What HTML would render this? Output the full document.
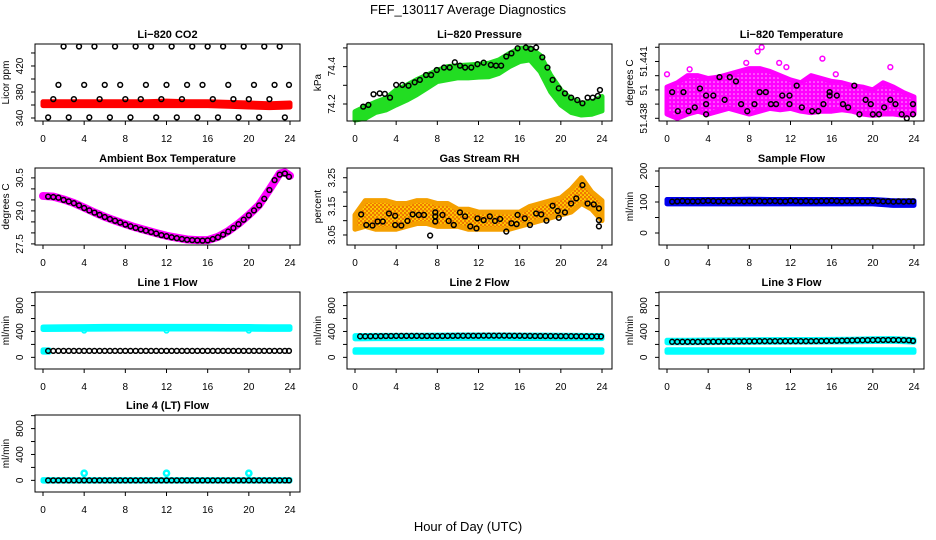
<!DOCTYPE html>
<html><head><meta charset="utf-8"><style>
html,body{margin:0;padding:0;background:#fff;}
svg{display:block;font-family:"Liberation Sans",sans-serif;}
</style></head><body>
<svg id="chart" width="936" height="540" viewBox="0 0 936 540">
<defs>
<pattern id="rhPat" width="4" height="4" patternUnits="userSpaceOnUse"><rect width="4" height="4" fill="#ffd000"/><circle cx="1" cy="1" r="1.3" fill="#f07800"/><circle cx="3" cy="3" r="1.3" fill="#f07800"/></pattern>
<pattern id="tmPat" width="4" height="4" patternUnits="userSpaceOnUse"><rect width="4" height="4" fill="#ff00ff"/><circle cx="2" cy="2" r="0.8" fill="#ffaaff"/></pattern>
</defs>
<rect x="0" y="0" width="936" height="540" fill="#fff"/>
<text x="468" y="14" text-anchor="middle" font-size="13">FEF_130117  Average Diagnostics</text>
<text x="468" y="531" text-anchor="middle" font-size="13">Hour of Day (UTC)</text>
</svg>
<script>
const H48=[0.5,1,1.5,2,2.5,3,3.5,4,4.5,5,5.5,6,6.5,7,7.5,8,8.5,9,9.5,10,10.5,11,11.5,12,12.5,13,13.5,14,14.5,15,15.5,16,16.5,17,17.5,18,18.5,19,19.5,20,20.5,21,21.5,22,22.5,23,23.5,23.9];
const H25=[0,1,2,3,4,5,6,7,8,9,10,11,12,13,14,15,16,17,18,19,20,21,22,23,24];
const H13=[0,2,4,6,8,10,12,14,16,18,20,22,24];
const xTicks=[0,4,8,12,16,20,24];

// CO2
const co2Black=[341,369,391,450,341,369,450,391,341,450,369,391,341,450,391,369,341,450,369,391,450,341,369,391,450,341,369,391,450,341,391,450,369,341,450,391,369,341,450,369,391,341,450,369,391,450,341,391];
const co2Lo=[359,359,359,359,359,359,359,359,359,358,357,356,357];
const co2Hi=[365,365,365,365,365,365,366,365,365,364,363,362,363];
// Pressure
const presHours=[0.8,1.3,1.8,2.4,2.9,3.4,4,4.6,5.2,5.8,6.3,6.9,7.4,7.95,8.65,9.2,9.7,10.2,10.7,11.3,11.9,12.5,13.2,13.7,14.2,14.7,15.2,15.8,16.6,17.1,17.6,18.2,18.7,19.2,19.8,20.4,21,21.6,22.1,22.6,23.1,23.6,23.8];
const presBlack=[74.186,74.195,74.252,74.257,74.254,74.234,74.302,74.302,74.298,74.316,74.329,74.355,74.355,74.382,74.395,74.395,74.423,74.405,74.395,74.395,74.413,74.421,74.409,74.405,74.405,74.454,74.471,74.498,74.502,74.495,74.502,74.45,74.395,74.329,74.284,74.257,74.234,74.221,74.204,74.234,74.234,74.243,74.275];
const presLo=[74.114,74.123,74.155,74.168,74.195,74.22,74.25,74.285,74.32,74.33,74.34,74.34,74.344,74.346,74.364,74.40,74.427,74.436,74.373,74.266,74.195,74.155,74.141,74.145,74.163];
const presHi=[74.159,74.186,74.21,74.23,74.275,74.30,74.33,74.355,74.38,74.40,74.405,74.409,74.413,74.418,74.436,74.47,74.498,74.50,74.46,74.355,74.275,74.227,74.204,74.21,74.24];
// Li-820 temperature (tick units above 51.438)
const tempHours=[0.5,1.05,1.6,2.1,2.7,3.2,3.8,3.8,3.8,4.5,5.1,5.6,6.1,6.7,7.2,7.8,8.5,9,9.6,10.1,10.6,11.2,11.9,11.9,12.6,13.1,14.1,14.7,15.2,15.8,15.8,16.5,17.1,17.6,18.2,18.7,19.3,19.8,20,20.6,21.1,21.7,22.2,22.8,23.3,23.9,23.9];
const tempBlack=[1.84,0.5,1.84,0.5,0.77,2.1,1.0,0.28,1.6,1.6,2.9,1.3,2.9,2.6,1.0,0.5,1.0,1.84,1.84,1.0,1.0,1.6,1.6,1.0,2.3,0.77,0.5,0.5,1.0,1.6,1.84,1.6,1.0,0.77,2.3,0.28,1.3,1.0,0.28,0.28,0.77,1.3,1.0,0.28,0,1.0,0.28];
const tempLo=[0.3,0,0.3,0.5,0.3,0.5,0.7,0.5,0.3,0.5,0.7,0.6,0.7,0.5,0.4,0.5,0.5,0.6,0.5,0.3,0.2,0.3,0.3,0.2,0.3];
const tempHi=[2.2,2.5,3.0,3.0,2.8,2.9,3.1,3.3,3.5,3.5,3.3,3.0,2.7,2.5,3.0,2.8,2.6,2.5,2.3,2.2,2.0,2.5,2.2,1.8,1.5];
const tempOutHours=[0,2.2,7.7,8.8,9.2,10.9,11.6,15.1,16.4,21.7];
const tempOut=[3.1,3.45,3.9,4.7,5.0,3.9,3.6,4.2,3.1,3.6];
// Ambient box temperature
const ambBlack=[29.65,29.63,29.6,29.5,29.43,29.35,29.25,29.13,29.02,28.92,28.82,28.72,28.63,28.55,28.47,28.38,28.3,28.23,28.16,28.1,28.04,27.97,27.9,27.85,27.8,27.76,27.72,27.69,27.67,27.66,27.65,27.66,27.72,27.8,27.92,28.06,28.22,28.4,28.6,28.8,29.02,29.25,29.55,29.95,30.4,30.65,30.7,30.55];
const ambMagHours=[0,1,2,3,4,5,6,7,8,9,10,11,12,13,14,15,16,17,18,19,20,21,22,23,23.5,24];
const ambMag=[29.68,29.65,29.52,29.36,29.15,28.93,28.73,28.56,28.4,28.25,28.12,27.99,27.87,27.78,27.7,27.67,27.67,27.82,28.08,28.42,28.82,29.27,29.97,30.7,30.75,30.6];
// Gas stream RH
const rhHours=[0.6,1.1,1.7,2.2,2.7,3.3,3.9,3.9,4.5,5.1,5.6,6.2,6.7,7.3,7.8,7.8,7.8,8.5,9.1,9.6,10.2,10.7,11.2,11.8,11.9,12.5,13.1,13.6,14.1,14.7,15.2,15.7,15.8,16.5,17,17.6,18.1,18.6,19.2,19.7,19.8,20.4,21,21.5,22.1,22.6,23.2,23.7,23.7,23.7];
const rhBlack=[3.122,3.085,3.083,3.097,3.097,3.125,3.117,3.085,3.083,3.099,3.122,3.12,3.12,3.048,3.129,3.115,3.097,3.12,3.099,3.085,3.129,3.115,3.08,3.073,3.108,3.102,3.115,3.099,3.106,3.062,3.091,3.088,3.12,3.108,3.085,3.125,3.122,3.1,3.152,3.134,3.11,3.129,3.16,3.178,3.224,3.16,3.157,3.143,3.102,3.08];
const rhLo=[3.07,3.08,3.07,3.07,3.07,3.08,3.09,3.09,3.08,3.08,3.08,3.07,3.07,3.07,3.07,3.07,3.08,3.09,3.10,3.11,3.12,3.13,3.16,3.14,3.10];
const rhHi=[3.12,3.17,3.17,3.17,3.16,3.16,3.17,3.17,3.16,3.16,3.14,3.14,3.13,3.13,3.13,3.13,3.13,3.15,3.16,3.17,3.18,3.21,3.25,3.20,3.17];
// Sample flow
const sfBlack=[101,102,103,102,102,102,103,104,103,102,103,102,103,103,102,103,102,103,102,103,103,102,102,104,103,102,103,102,102,103,103,104,103,102,103,102,103,102,102,103,103,102,102,101,102,101,102,102];
const sfLo=[94,94,94,94,94,94,94,94,94,94,94,89,89];
const sfHi=[108,108,108,108,109,108,108,108,108,108,108,104,104];
// Line flows
const l1Black=[100,100,100,100,100,100,100,100,100,100,100,100,100,100,100,100,100,100,100,100,100,100,100,100,100,100,100,100,100,100,100,100,100,100,100,100,100,100,100,100,100,100,100,100,100,100,100,100];
const l1CyanLo=[430,432,435,437,438,438,438,438,438,437,436,433,432];
const l1CyanHi=[470,472,475,478,478,478,478,478,478,477,476,473,472];
const l2Black=[325,325,326,327,328,330,330,331,331,331,331,331,330,330,330,330,330,331,332,333,333,333,334,334,335,335,335,335,335,334,333,333,332,331,330,330,329,329,328,328,327,327,326,325,325,324,323,322];
const l2HiLo=[285,290,290,292,292,293,293,293,292,291,290,290,290];
const l2HiHi=[335,340,340,342,343,345,345,345,344,343,342,340,338];
const lowLo=[78,78,78,78,78,78,78,78,78,78,78,78,78];
const lowHi=[118,118,118,118,118,118,118,118,118,118,118,118,118];
const l3Black=[240,240,240,240,240,240,240,241,242,243,244,245,246,247,248,248,249,250,250,250,250,250,250,250,250,250,250,251,252,253,254,255,257,259,260,262,264,265,266,267,268,268,268,268,267,266,264,255];
const l3HiLo=[225,225,228,230,232,234,235,236,238,240,245,248,235];
const l3HiHi=[265,265,268,270,272,274,275,276,278,280,288,290,275];
const l4Black=[0,0,0,0,0,0,0,0,0,0,0,0,0,0,0,0,0,0,0,0,0,0,0,0,0,0,0,0,0,0,0,0,0,0,0,0,0,0,0,0,0,0,0,0,0,0,0,0];
const l4CyanLo=[-12,-12,-12,-12,-12,-12,-12,-12,-12,-12,-12,-12,-12];
const l4CyanHi=[12,12,12,12,12,12,12,12,12,12,12,12,12];
const spikeHours=[4,12,20];
const spikeVals=[110,110,110];
const dipHours=[4,12,20];
const dipVals=[415,415,415];

const NS="http://www.w3.org/2000/svg";
const svg=document.getElementById('chart');
function el(tag,attrs,parent){const e=document.createElementNS(NS,tag);for(const k in attrs)e.setAttribute(k,attrs[k]);(parent||svg).appendChild(e);return e;}
const colLeft=[35,347,659],rowTop=[44,168,292,415],PW=265,PH=77;

function panel(col,row,cfg){
  const L=colLeft[col],T=rowTop[row],B=T+PH;
  const g=el('g',{});
  
  
  const sx=h=>L+8+h/24*247;
  const sy=v=>B-(v-cfg.ylim[0])/(cfg.ylim[1]-cfg.ylim[0])*PH;
  const t=el('text',{x:L+PW/2,y:T-6,'text-anchor':'middle','font-size':11,'font-weight':'bold'},g);
  t.textContent=cfg.title;
  
  
  const plot=el('g',{},g);
  
  
  const frame=el('rect',{x:L,y:T,width:PW,height:PH,fill:'none',stroke:'#000','stroke-width':1},g);
  
  
  const xa=el('g',{},g);
  
  
  xTicks.forEach(v=>{
    el('line',{x1:sx(v),x2:sx(v),y1:B,y2:B+4,stroke:'#000'},xa);
    const tx=el('text',{x:sx(v),y:B+21,'text-anchor':'middle','font-size':10},xa);
    tx.textContent=v;
    
    
  });
  const ya=el('g',{},g);
  
  
  cfg.yticks.forEach(v=>{ if(sy(v)>=T-1&&sy(v)<=B+1) el('line',{x1:L-4,x2:L,y1:sy(v),y2:sy(v),stroke:'#000'},ya);});
  cfg.ylabels.forEach((lab,i)=>{
    const y=sy(cfg.ylabelVals[i]);
    const tx=el('text',{x:L-12,y:y,'text-anchor':'middle','font-size':10,transform:`rotate(-90 ${L-12} ${y})`},ya);
    tx.textContent=lab;
    
    
  });
  const yt=el('text',{x:L-26,y:T+PH/2,'text-anchor':'middle','font-size':10,transform:`rotate(-90 ${L-26} ${T+PH/2})`},g);
  yt.textContent=cfg.ylab;
  
  
  return {plot,sx,sy};
}
function band(p,hours,lo,hi,color,name,stroke){
  const pts=hours.map((h,i)=>p.sx(h)+','+p.sy(lo[i])).concat(hours.map((h,i)=>p.sx(h)+','+p.sy(hi[i])).reverse());
  const e=el('polygon',{points:pts.join(' '),fill:color,stroke:stroke||color,'stroke-width':5,'stroke-linejoin':'round'},p.plot);
  
  
}
function dots(p,hours,vals,color,name,r,w){
  hours.forEach((h,i)=>{
    const c=el('circle',{cx:p.sx(h),cy:p.sy(vals[i]),r:r||2.4,fill:'none',stroke:color,'stroke-width':w||1.5},p.plot);
    
    
  });
}
function line(p,hours,vals,color,w,name){
  const e=el('polyline',{points:hours.map((h,i)=>p.sx(h)+','+p.sy(vals[i])).join(' '),fill:'none',stroke:color,'stroke-width':w,'stroke-linejoin':'round','stroke-linecap':'round'},p.plot);
  
  
}
const flowTicks=[0,200,400,600,800,1000],flowLabs=['0','400','800'],flowLabVals=[0,400,800];

let p=panel(0,0,{name:'co2-panel',title:'Li\u2212820 CO2',ylab:'Licor ppm',ylim:[335.4,453.8],yticks:[340,360,380,400,420,440],ylabels:['340','380','420'],ylabelVals:[340,380,420]});
band(p,H13,co2Lo,co2Hi,'#ff0000','co2-samples');
dots(p,H48,co2Black,'#000','co2-average');

p=panel(1,0,{name:'pressure-panel',title:'Li\u2212820 Pressure',ylab:'kPa',ylim:[74.109,74.521],yticks:[74.2,74.3,74.4,74.5],ylabels:['74.2','74.4'],ylabelVals:[74.2,74.4]});
band(p,H25,presLo,presHi,'#22dd22','pressure-samples');
dots(p,presHours,presBlack,'#000','pressure-average');

p=panel(2,0,{name:'li820-temperature-panel',title:'Li\u2212820 Temperature',ylab:'degrees C',ylim:[-0.19,5.23],yticks:[0,1,2,3,4,5],ylabels:['51.438','51','51.441'],ylabelVals:[0,2,4]});
band(p,H25,tempLo,tempHi,'url(#tmPat)','temperature-samples','#ff00ff');
dots(p,tempOutHours,tempOut,'#ff00ff','temperature-outlier',2.4,1.5);
dots(p,tempHours,tempBlack,'#000','temperature-average');

p=panel(0,1,{name:'ambient-temperature-panel',title:'Ambient Box Temperature',ylab:'degrees C',ylim:[27.45,30.95],yticks:[27.5,28,28.5,29,29.5,30,30.5],ylabels:['27.5','29.0','30.5'],ylabelVals:[27.5,29,30.5]});
line(p,ambMagHours,ambMag,'#ff00ff',8,'ambient-samples');
dots(p,H48,ambBlack,'#000','ambient-average');

p=panel(1,1,{name:'rh-panel',title:'Gas Stream RH',ylab:'percent',ylim:[3.015,3.284],yticks:[3.05,3.1,3.15,3.2,3.25],ylabels:['3.05','3.15','3.25'],ylabelVals:[3.05,3.15,3.25]});
band(p,H25,rhLo,rhHi,'url(#rhPat)','rh-samples','#f5a000');
dots(p,rhHours,rhBlack,'#000','rh-average');

p=panel(2,1,{name:'sample-flow-panel',title:'Sample Flow',ylab:'ml/min',ylim:[-38.7,209.7],yticks:[0,50,100,150,200],ylabels:['0','100','200'],ylabelVals:[0,100,200]});
band(p,H13,sfLo,sfHi,'#0000ee','sample-flow-samples');
dots(p,H48,sfBlack,'#000','sample-flow-average');

p=panel(0,2,{name:'line1-flow-panel',title:'Line 1 Flow',ylab:'ml/min',ylim:[-180,1010],yticks:flowTicks,ylabels:flowLabs,ylabelVals:flowLabVals});
band(p,H13,l1CyanLo,l1CyanHi,'#00ffff','line1-samples');
band(p,[0,0.6],[80,80],[115,115],'#00ffff','line1-start-samples');
dots(p,dipHours,dipVals,'#00ffff','line1-dip');
dots(p,H48,l1Black,'#000','line1-average');

p=panel(1,2,{name:'line2-flow-panel',title:'Line 2 Flow',ylab:'ml/min',ylim:[-180,1010],yticks:flowTicks,ylabels:flowLabs,ylabelVals:flowLabVals});
band(p,H13,lowLo,lowHi,'#00ffff','line2-low-samples');
band(p,H13,l2HiLo,l2HiHi,'#00ffff','line2-high-samples');
dots(p,H48,l2Black,'#000','line2-average');

p=panel(2,2,{name:'line3-flow-panel',title:'Line 3 Flow',ylab:'ml/min',ylim:[-180,1010],yticks:flowTicks,ylabels:flowLabs,ylabelVals:flowLabVals});
band(p,H13,lowLo,lowHi,'#00ffff','line3-low-samples');
band(p,H13,l3HiLo,l3HiHi,'#00ffff','line3-high-samples');
dots(p,H48,l3Black,'#000','line3-average');

p=panel(0,3,{name:'line4-flow-panel',title:'Line 4 (LT) Flow',ylab:'ml/min',ylim:[-180,1010],yticks:flowTicks,ylabels:flowLabs,ylabelVals:flowLabVals});
band(p,H13,l4CyanLo,l4CyanHi,'#00ffff','line4-samples');
dots(p,spikeHours,spikeVals,'#00ffff','line4-spike',2.6,2.5);
dots(p,H48,l4Black,'#000','line4-average');
</script>
</body></html>
